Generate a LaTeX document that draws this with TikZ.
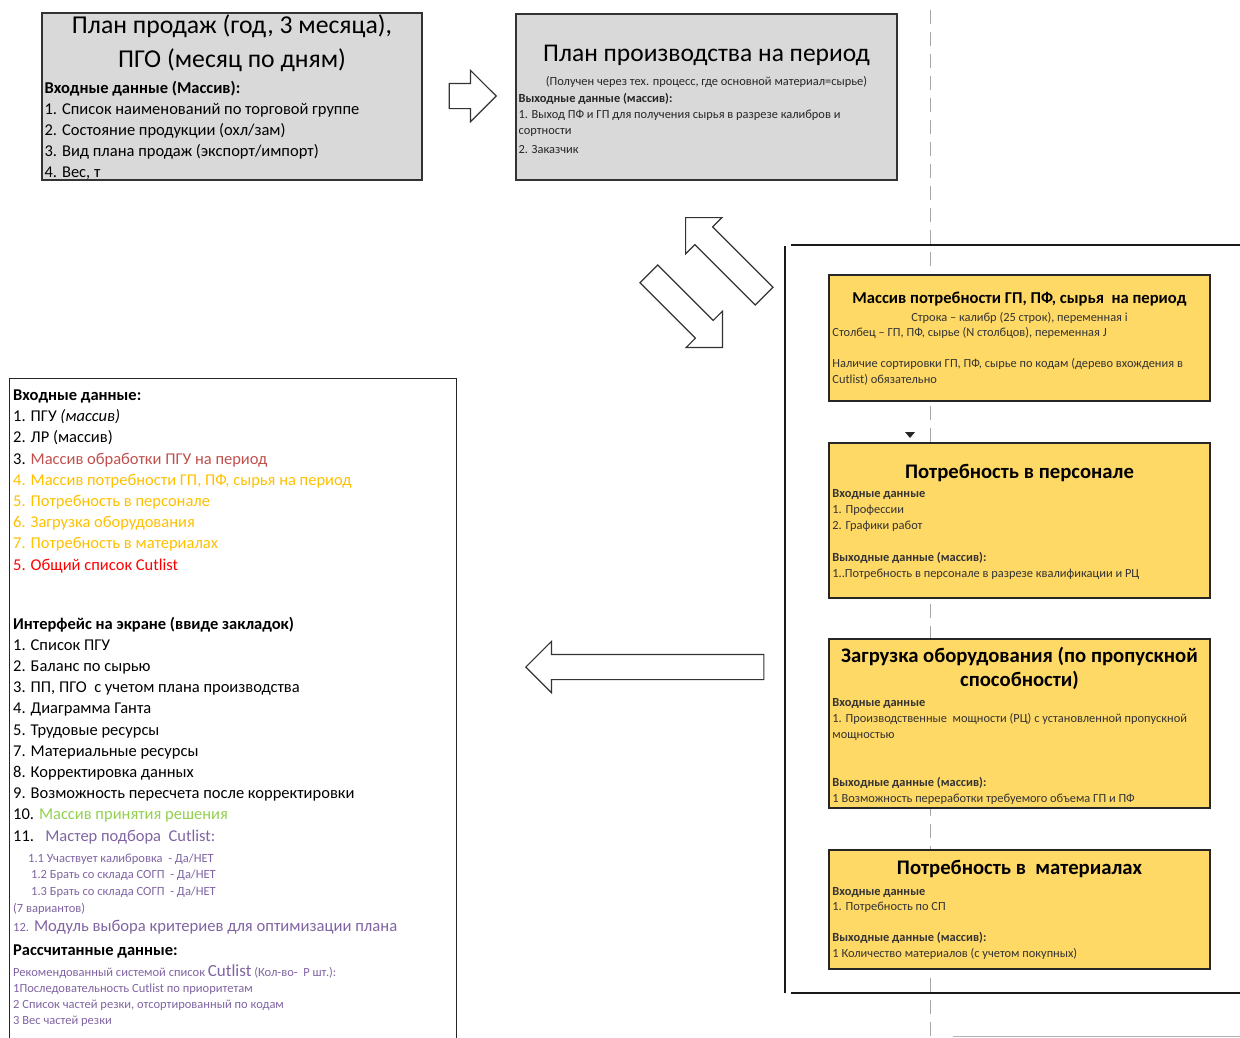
\documentclass[tikz,border=0pt]{standalone}
\usepackage{fontspec}
\setmainfont{Carlito}
\usepackage{tikz}
\usetikzlibrary{positioning,shapes.arrows}
\definecolor{planGray}{HTML}{D9D9D9}
\definecolor{needYellow}{HTML}{FFD966}
\definecolor{brickred}{HTML}{C0504D}
\definecolor{goldtext}{HTML}{FFC000}
\definecolor{okgreen}{HTML}{92D050}
\definecolor{wizpurple}{HTML}{8064A2}
\definecolor{guidegray}{HTML}{A6A6A6}

\begin{document}
\begin{tikzpicture}[
    x=1pt, y=-1pt,
    plan/.style={draw=black!80, line width=1.3pt, fill=planGray, inner sep=0pt},
    need/.style={draw=black!85, line width=1.5pt, fill=needYellow, inner sep=0pt, minimum width=381pt},
    outbox/.style={draw=black!85, line width=1.3pt, inner sep=0pt},
    txt/.style={inner sep=0pt, anchor=north west, align=left},
    ttl/.style={inner sep=0pt, anchor=north, align=center},
    blockarr/.style={single arrow, draw=black!80, fill=white, line width=1.2pt, minimum width=0pt,
      inner sep=12pt, single arrow head extend=13pt, anchor=tip},
    frame/.style={draw=black!90, line width=1.3pt},
    guide/.style={draw=guidegray, line width=0.9pt, dash pattern=on 14pt off 8pt}
  ]
  \useasboundingbox (0,0) rectangle (1240,1037);
  \draw[guide] (930,10) -- (930,1037);

  \node[plan, minimum width=380pt, minimum height=167pt] (sales) at (232,96.5) {};
  \node[ttl, font=\fontsize{25.7}{34}\selectfont, below=2pt of sales.north] (salesT) {План продаж (год, 3 месяца),\\ПГО (месяц по дням)};
  \node[txt, font=\fontsize{16.5}{21}\selectfont, below right=68.5pt and 3pt of sales.north west] (salesIn) {\textbf{Входные данные (Массив):}\\
    1. Список наименований по торговой группе\\
    2. Состояние продукции (охл/зам)\\
    3. Вид плана продаж (экспорт/импорт)\\
    4. Вес, т};

  \node[plan, minimum width=381pt, minimum height=166pt] (prod) at (706.5,97) {};
  \node[ttl, font=\fontsize{25.5}{30}\selectfont, below=32pt of prod.north] (prodT) {План производства на период};
  \node[ttl, font=\fontsize{12.4}{15}\selectfont, text=black!85, below=62.5pt of prod.north] (prodSub) {(Получен через тех. процесс, где основной материал=сырье)};
  \node[txt, font=\fontsize{12.4}{16}\selectfont, text=black!85, below right=79.8pt and 3pt of prod.north west] (prodOut) {\textbf{Выходные данные (массив):}\\
    1. Выход ПФ и ГП для получения сырья в разрезе калибров и\\
    сортности\\[3pt]
    2. Заказчик};

  \draw[frame] (785,246) -- (785,993);
  \draw[frame] (791,245) -- (1240,245);
  \draw[frame] (791,993) -- (1240,993);
  \draw[black!30, line width=1pt] (953,1036) -- (1240,1036);

  \node[need, minimum height=126pt] (needArr) at (1019.5,338) {};
  \node[ttl, font=\bfseries\fontsize{16.6}{19}\selectfont, below=17.5pt of needArr.north] (needArrT) {Массив потребности ГП, ПФ, сырья~ на период};
  \node[ttl, font=\fontsize{12.4}{15.7}\selectfont, text=black!80, below=37.8pt of needArr.north] (needArrS) {Строка – калибр (25 строк), переменная i};
  \node[txt, font=\fontsize{12.4}{15.7}\selectfont, text=black!80, below right=53pt and 4pt of needArr.north west] (needArrB) {Столбец – ГП, ПФ, сырье (N столбцов), переменная J\\[15.7pt]
    Наличие сортировки ГП, ПФ, сырье по кодам (дерево вхождения в\\
    Cutlist) обязательно};

  \fill[black!85] (905,432) -- (915,432) -- (910,438) -- cycle;

  \node[need, minimum height=155pt] (needStaff) at (1019.5,520.5) {};
  \node[ttl, font=\bfseries\fontsize{20.7}{24}\selectfont, below=21.3pt of needStaff.north] (needStaffT) {Потребность в персонале};
  \node[txt, font=\fontsize{12.4}{16}\selectfont, text=black!80, below right=46.8pt and 4pt of needStaff.north west] (needStaffB) {\textbf{Входные данные}\\
    1. Профессии\\
    2. Графики работ\\[16pt]
    \textbf{Выходные данные (массив):}\\
    1..Потребность в персонале в разрезе квалификации и РЦ};

  \node[need, minimum height=169pt] (needEquip) at (1019.5,723.5) {};
  \node[ttl, font=\bfseries\fontsize{20.7}{24}\selectfont, below=8.3pt of needEquip.north] (needEquipT) {Загрузка оборудования (по пропускной\\способности)};
  \node[txt, font=\fontsize{12.4}{16}\selectfont, text=black!80, below right=59.8pt and 4pt of needEquip.north west] (needEquipB) {\textbf{Входные данные}\\
    1. Производственные\ \ мощности (РЦ) с установленной пропускной\\
    мощностью\\[32pt]
    \textbf{Выходные данные (массив):}\\
    1 Возможность переработки требуемого объема ГП и ПФ};

  \node[need, minimum height=119pt] (needMat) at (1019.5,909.5) {};
  \node[ttl, font=\bfseries\fontsize{20.7}{24}\selectfont, below=11pt of needMat.north] (needMatT) {Потребность в\ \ материалах};
  \node[txt, font=\fontsize{12.4}{15.5}\selectfont, text=black!80, below right=37.8pt and 4pt of needMat.north west] (needMatB) {\textbf{Входные данные}\\
    1. Потребность по СП\\[15.5pt]
    \textbf{Выходные данные (массив):}\\
    1 Количество материалов (с учетом покупных)};

  \node[outbox, minimum width=447pt, minimum height=680pt, anchor=north west] (result) at (9,378) {};
  \node[txt, font=\fontsize{16.5}{21.2}\selectfont, below right=11.6pt and 4pt of result.north west] (resIn) {\textbf{Входные данные:}\\
    1. ПГУ \textit{(массив)}\\
    2. ЛР (массив)\\
    3. \textcolor{brickred}{Массив обработки ПГУ на период}\\
    \textcolor{goldtext}{4. Массив потребности ГП, ПФ, сырья на период}\\
    \textcolor{goldtext}{5. Потребность в персонале}\\
    \textcolor{goldtext}{6. Загрузка оборудования}\\
    \textcolor{goldtext}{7. Потребность в материалах}\\
    \textcolor{red}{5. Общий список Cutlist}\\[37.8pt]
    \textbf{Интерфейс на экране (ввиде закладок)}\\
    1. Список ПГУ\\
    2. Баланс по сырью\\
    3. ПП, ПГО\ \ с учетом плана производства\\
    4. Диаграмма Ганта\\
    5. Трудовые ресурсы\\
    7. Материальные ресурсы\\
    8. Корректировка данных\\
    9. Возможность пересчета после корректировки\\
    10. \textcolor{okgreen}{Массив принятия решения}\\
    11.\ \ \ \textcolor{wizpurple}{Мастер подбора\ \ Cutlist:}};
  \node[txt, font=\fontsize{12.5}{16.7}\selectfont, text=wizpurple, below right=475.2pt and 4pt of result.north west] (resWiz) {\hspace*{15pt}1.1 Участвует калибровка\ \ - Да/НЕТ\\
    \hspace*{18pt}1.2 Брать со склада СОГП\ \ - Да/НЕТ\\
    \hspace*{18pt}1.3 Брать со склада СОГП\ \ - Да/НЕТ\\
    (7 вариантов)};
  \node[txt, font=\fontsize{16.6}{21}\selectfont, text=wizpurple, below right=542pt and 4pt of result.north west] (resCrit) {{\fontsize{12.5}{14}\selectfont 12.} Модуль выбора критериев для оптимизации плана};
  \node[txt, font=\fontsize{16.5}{21}\selectfont, below right=566.6pt and 4pt of result.north west] (resCalc) {\textbf{Рассчитанные данные:}};
  \node[txt, font=\fontsize{12.5}{16}\selectfont, text=wizpurple, below right=586pt and 4pt of result.north west] (resRec) {Рекомендованный системой список {\fontsize{17}{16}\selectfont Cutlist} (Кол-во-\ \ P шт.):\\
    1Последовательность Cutlist по приоритетам\\
    2 Список частей резки, отсортированный по кодам\\
    3 Вес частей резки};

  \node[blockarr, minimum height=47pt] (toProd) at (497,96) {};
  \node[blockarr, minimum height=111pt, rotate=135] (backUp) at (685,217) {};
  \node[blockarr, minimum height=104pt, rotate=-45] (toNeeds) at (723,348) {};
  \node[blockarr, minimum height=238pt, rotate=180] (toResult) at (525,667) {};
\end{tikzpicture}
\end{document}
